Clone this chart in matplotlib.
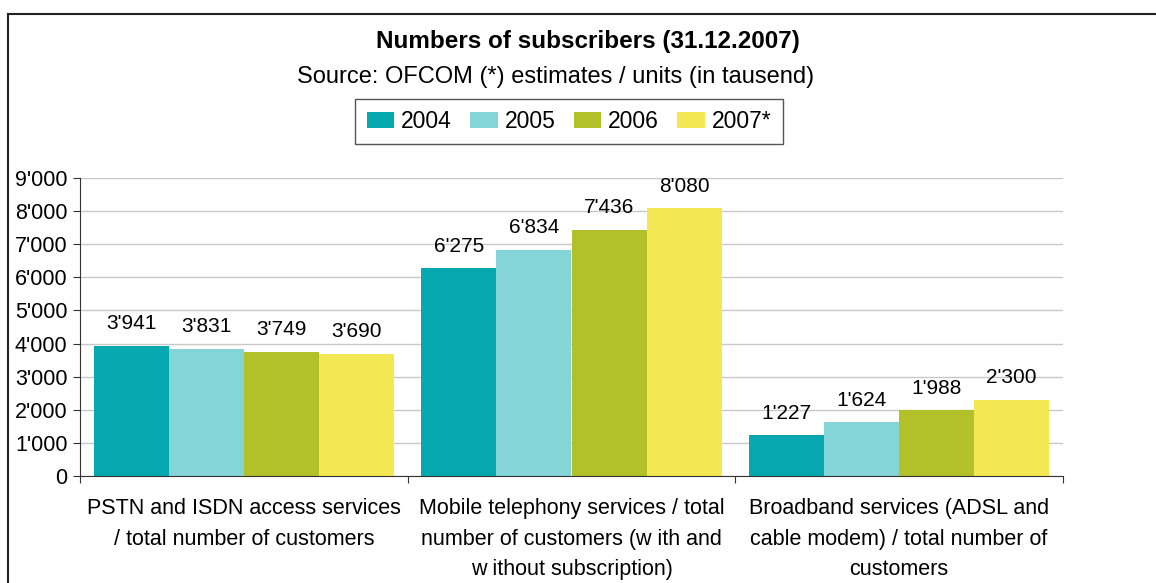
import matplotlib.pyplot as plt
from matplotlib.lines import Line2D
import numpy as np

plt.rcParams['font.family'] = ['Liberation Sans', 'DejaVu Sans']

categories = [
    "PSTN and ISDN access services\n/ total number of customers",
    "Mobile telephony services / total\nnumber of customers (w ith and\nw ithout subscription)",
    "Broadband services (ADSL and\ncable modem) / total number of\ncustomers",
]
years = ["2004", "2005", "2006", "2007*"]
values = {
    "2004": [3941, 6275, 1227],
    "2005": [3831, 6834, 1624],
    "2006": [3749, 7436, 1988],
    "2007*": [3690, 8080, 2300],
}
colors = ["#06A8B0", "#84D4D8", "#B2C02A", "#F3E853"]
yticks = [0, 1000, 2000, 3000, 4000, 5000, 6000, 7000, 8000, 9000]


def fmt(v):
    return f"{v:,}".replace(",", "'")


fig = plt.figure(figsize=(11.56, 5.83), dpi=100)
ax = fig.add_axes([80 / 1156, 1 - 476 / 583, (1063 - 80) / 1156, (476 - 178) / 583])

x = np.arange(len(categories))
w = 0.229
for i, yr in enumerate(years):
    pos = x + (i - 1.5) * w
    bars = ax.bar(pos, values[yr], width=w, color=colors[i], label=yr, zorder=2)
    for b, v in zip(bars, values[yr]):
        ax.annotate(fmt(v), (b.get_x() + b.get_width() / 2, v),
                    xytext=(0, 12), textcoords='offset points',
                    ha='center', va='baseline', fontsize=15)

ax.set_xlim(-0.5, 2.5)
ax.set_ylim(0, 9000)
ax.set_yticks(yticks)
ax.set_yticklabels([fmt(t) for t in yticks], fontsize=15.5)
ax.yaxis.grid(True, color='#C8C8C8', linewidth=1, zorder=0)
ax.set_axisbelow(True)

ax.set_xticks([-0.5, 0.5, 1.5, 2.5])
ax.set_xticklabels([])
ax.set_xticks(x, minor=True)
ax.set_xticklabels(categories, minor=True, fontsize=15.5, linespacing=1.6, va='top')
ax.tick_params(axis='x', which='minor', length=0, pad=16)
ax.tick_params(axis='x', which='major', length=5, direction='out', color='#333333')
ax.tick_params(axis='y', length=5, direction='out', color='#333333', pad=4)

for s in ['top', 'right']:
    ax.spines[s].set_visible(False)
ax.spines['left'].set_color('#333333')
ax.spines['bottom'].set_color('#333333')

fig.text(588 / 1156, 1 - 48 / 583, "Numbers of subscribers (31.12.2007)",
         ha='center', va='baseline', fontsize=17.5, fontweight='bold')
fig.text(556 / 1156, 1 - 83 / 583, "Source: OFCOM (*) estimates / units (in tausend)",
         ha='center', va='baseline', fontsize=17)

leg = fig.legend(loc='center', bbox_to_anchor=(569 / 1156, 1 - 121.5 / 583), ncol=4,
                 fontsize=16.5, fancybox=False, edgecolor='#555555', framealpha=1,
                 handlelength=1.2, handleheight=0.75, handletextpad=0.3,
                 columnspacing=0.8, borderpad=0.5, borderaxespad=0)
leg.get_frame().set_linewidth(1.0)

# outer frame (top and left edges visible in the crop)
fig.add_artist(Line2D([8 / 1156, 1], [1 - 14 / 583, 1 - 14 / 583],
                      transform=fig.transFigure, color='#222222', linewidth=1.5))
fig.add_artist(Line2D([8 / 1156, 8 / 1156], [0, 1 - 14 / 583],
                      transform=fig.transFigure, color='#222222', linewidth=1.5))

fig.savefig("out.png", dpi=100)
